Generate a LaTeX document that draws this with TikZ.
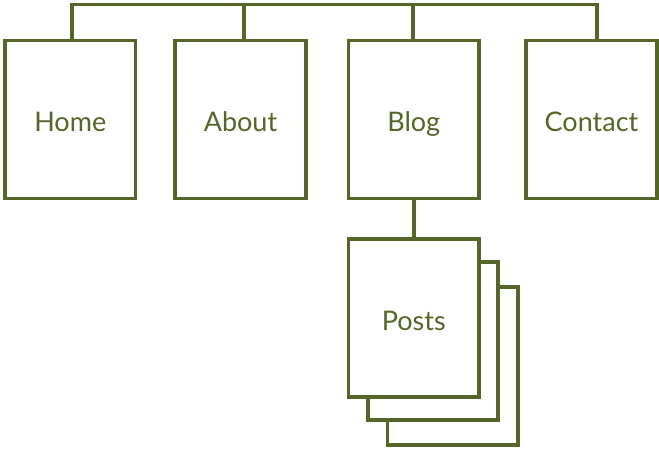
\documentclass[tikz,border=0pt]{standalone}
\usepackage{fontspec}
\setmainfont{Lato}
\usetikzlibrary{positioning}
\definecolor{olive}{RGB}{85,102,40}

\begin{document}
\begin{tikzpicture}[x=1pt,y=-1pt,
	page/.style={draw=olive,line width=3.8pt,fill=white,minimum width=130.5pt,minimum height=158pt,
		inner sep=0pt,text=olive,text height=25pt,text depth=0pt,font=\fontsize{27}{30}\selectfont},
	link/.style={draw=olive,line width=3.8pt}]
	\useasboundingbox (0,0) rectangle (659,449);
	% top level pages
	\node[page] (home) at (70.25,119.5) {Home};
	\node[page] (about) at (240.5,119.5) {About};
	\node[page] (blog) at (413.75,119.5) {Blog};
	\node[page] (contact) at (591.5,119.5) {Contact};
	% stack of posts
	\node[page] (post3) at (452.75,366) {};
	\node[page] (post2) at (433,341) {};
	\node[page] (posts) at (413.75,318.25) {Posts};
	\coordinate (top) at (0,4.5);
	\draw[link] ([xshift=1.75pt]home.north) |- (top -| 596.7,0) -- ([xshift=5.2pt]contact.north);
	\draw[link] ([xshift=3.5pt]about.north) -- ([xshift=3.5pt]about.north |- top);
	\draw[link] ([xshift=-1pt]blog.north) -- ([xshift=-1pt]blog.north |- top);
	\draw[link] (blog.south) -- (posts.north);
\end{tikzpicture}
\end{document}
